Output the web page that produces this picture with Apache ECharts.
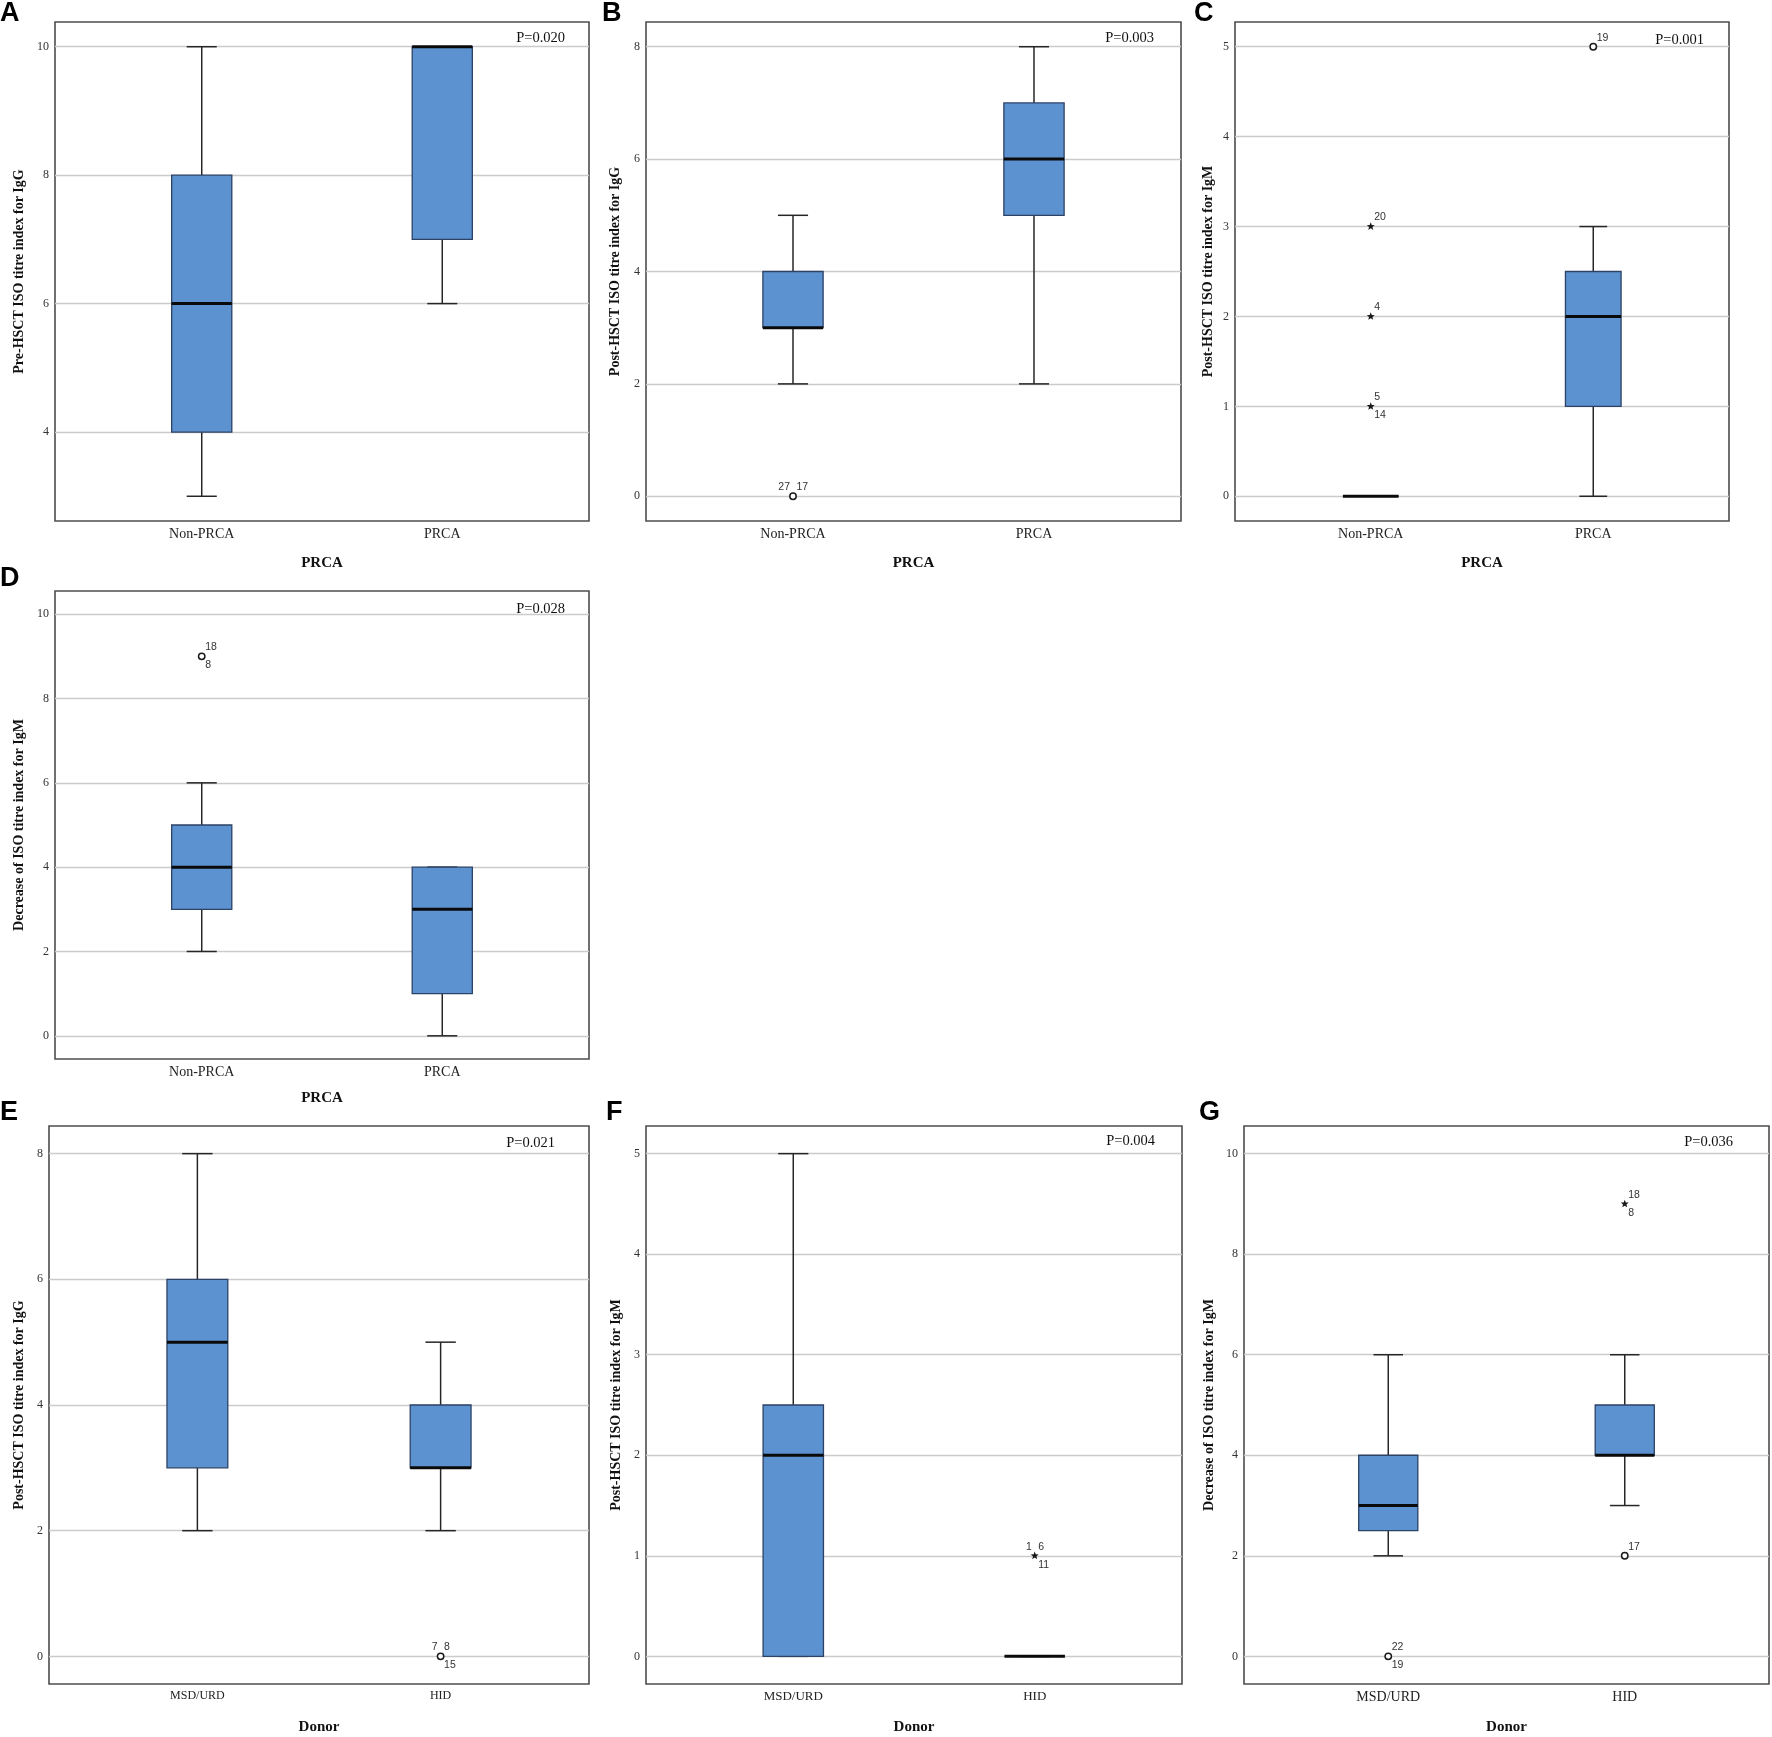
<!DOCTYPE html>
<html>
<head>
<meta charset="utf-8">
<title>ISO titre index by PRCA and donor type</title>
<script src="https://cdn.jsdelivr.net/npm/echarts@6/dist/echarts.min.js"></script>
<style>
  html, body { margin: 0; padding: 0; background: #fff; }
  #chart { width: 1772px; height: 1737px; }
</style>
</head>
<body>
<div id="chart"></div>
<script>
// groups on the x axis
const prcaGroups = ['Non-PRCA', 'PRCA'];
const donorGroups = ['MSD/URD', 'HID'];

// five-number summaries per group: [min, Q1, median, Q3, max]
const boxA = [[3, 4, 6, 8, 10], [6, 7, 10, 10, 10]];
const boxB = [[2, 3, 3, 4, 5], [2, 5, 6, 7, 8]];
const boxC = [[0, 0, 0, 0, 0], [0, 1, 2, 2.5, 3]];
const boxD = [[2, 3, 4, 5, 6], [0, 1, 3, 4, 4]];
const boxE = [[2, 3, 5, 6, 8], [2, 3, 3, 4, 5]];
const boxF = [[0, 0, 2, 2.5, 5], [0, 0, 0, 0, 0]];
const boxG = [[2, 2.5, 3, 4, 6], [3, 4, 4, 5, 6]];

// outliers: [group, value, kind (0 = circle, 1 = extreme star), upper-left id, upper-right id, lower-right id]
const outA = [];
const outB = [[0, 0, 0, '27', '17', '']];
const outC = [[0, 3, 1, '', '20', ''], [0, 2, 1, '', '4', ''], [0, 1, 1, '', '5', '14'], [1, 5, 0, '', '19', '']];
const outD = [[0, 9, 0, '', '18', '8']];
const outE = [[1, 0, 0, '7', '8', '15']];
const outF = [[1, 1, 1, '1', '6', '11']];
const outG = [[0, 0, 0, '', '22', '19'], [1, 9, 1, '', '18', '8'], [1, 2, 0, '', '17', '']];

const yTitles = [
  'Pre-HSCT ISO titre index for IgG',
  'Post-HSCT ISO titre index for IgG',
  'Post-HSCT ISO titre index for IgM',
  'Decrease of ISO titre index for IgM',
  'Post-HSCT ISO titre index for IgG',
  'Post-HSCT ISO titre index for IgM',
  'Decrease of ISO titre index for IgM'
];
const pValues = ['P=0.020', 'P=0.003', 'P=0.001', 'P=0.028', 'P=0.021', 'P=0.004', 'P=0.036'];
const yTickStep = [2, 2, 1, 2, 2, 1, 2];

const SERIF = '"Liberation Serif", "Times New Roman", serif';
const SANS = '"Liberation Sans", Arial, sans-serif';
const BOX_WIDTH = 0.25;   // in group units

// layout of the seven panels (pixel rects of each plot frame)
const panels = [
  { letter: 'A', box: boxA, out: outA, cats: prcaGroups, xTitle: 'PRCA', yMin: 2.615, yMax: 10.385,
    grid: { left: 55, top: 22, width: 534, height: 499 }, yGap: 29, xGap: 35, catSize: 14, letterPos: [0, 14], pPos: [565, 38] },
  { letter: 'B', box: boxB, out: outB, cats: prcaGroups, xTitle: 'PRCA', yMin: -0.44, yMax: 8.44,
    grid: { left: 646, top: 22, width: 535, height: 499 }, yGap: 24, xGap: 35, catSize: 14, letterPos: [602, 14], pPos: [1154, 38] },
  { letter: 'C', box: boxC, out: outC, cats: prcaGroups, xTitle: 'PRCA', yMin: -0.275, yMax: 5.275,
    grid: { left: 1235, top: 22, width: 494, height: 499 }, yGap: 20, xGap: 35, catSize: 14, letterPos: [1194, 14], pPos: [1704, 40] },
  { letter: 'D', box: boxD, out: outD, cats: prcaGroups, xTitle: 'PRCA', yMin: -0.55, yMax: 10.55,
    grid: { left: 55, top: 591, width: 534, height: 468 }, yGap: 29, xGap: 32, catSize: 14, letterPos: [0, 579], pPos: [565, 609] },
  { letter: 'E', box: boxE, out: outE, cats: donorGroups, xTitle: 'Donor', yMin: -0.44, yMax: 8.44,
    grid: { left: 49, top: 1126, width: 540, height: 558 }, yGap: 23, xGap: 36, catSize: 12, letterPos: [0, 1113], pPos: [555, 1143] },
  { letter: 'F', box: boxF, out: outF, cats: donorGroups, xTitle: 'Donor', yMin: -0.275, yMax: 5.275,
    grid: { left: 646, top: 1126, width: 536, height: 558 }, yGap: 23, xGap: 36, catSize: 13, letterPos: [606, 1113], pPos: [1155, 1141] },
  { letter: 'G', box: boxG, out: outG, cats: donorGroups, xTitle: 'Donor', yMin: -0.55, yMax: 10.55,
    grid: { left: 1244, top: 1126, width: 525, height: 558 }, yGap: 28, xGap: 36, catSize: 14, letterPos: [1199, 1113], pPos: [1733, 1142] }
];

function renderBox(params, api) {
  const x = api.value(0);
  const lo = api.coord([x, api.value(1)]);
  const q1 = api.coord([x, api.value(2)]);
  const med = api.coord([x, api.value(3)]);
  const q3 = api.coord([x, api.value(4)]);
  const hi = api.coord([x, api.value(5)]);
  const half = api.size([BOX_WIDTH, 0])[0] / 2;
  const cx = med[0];
  const whisker = { stroke: '#262626', lineWidth: 1.5 };
  return {
    type: 'group',
    children: [
      { type: 'line', shape: { x1: cx, y1: hi[1], x2: cx, y2: q3[1] }, style: whisker },
      { type: 'line', shape: { x1: cx, y1: q1[1], x2: cx, y2: lo[1] }, style: whisker },
      { type: 'line', shape: { x1: cx - half / 2, y1: hi[1], x2: cx + half / 2, y2: hi[1] }, style: whisker },
      { type: 'line', shape: { x1: cx - half / 2, y1: lo[1], x2: cx + half / 2, y2: lo[1] }, style: whisker },
      { type: 'rect', shape: { x: cx - half, y: q3[1], width: half * 2, height: q1[1] - q3[1] },
        style: { fill: '#5b92cf', stroke: '#2c4266', lineWidth: 1.3 } },
      { type: 'line', shape: { x1: cx - half, y1: med[1], x2: cx + half, y2: med[1] },
        style: { stroke: '#0a0a0a', lineWidth: 3 } }
    ]
  };
}

function outlierRenderer(list) {
  return function (params, api) {
    const o = list[params.dataIndex];
    const p = api.coord([api.value(0), api.value(1)]);
    const children = [];
    if (o[2] === 0) {
      children.push({ type: 'circle', shape: { cx: p[0], cy: p[1], r: 3.2 },
        style: { fill: '#fff', stroke: '#1a1a1a', lineWidth: 1.5 } });
    } else {
      const pts = [];
      for (let k = 0; k < 10; k++) {
        const r = k % 2 === 0 ? 4.2 : 1.8;
        const a = -Math.PI / 2 + k * Math.PI / 5;
        pts.push([p[0] + r * Math.cos(a), p[1] + r * Math.sin(a)]);
      }
      children.push({ type: 'polygon', shape: { points: pts }, style: { fill: '#1a1a1a' } });
    }
    const font = '10.5px ' + SANS;
    if (o[3]) children.push({ type: 'text', x: p[0] - 3, y: p[1] - 9,
      style: { text: o[3], font: font, fill: '#333', align: 'right', verticalAlign: 'middle' } });
    if (o[4]) children.push({ type: 'text', x: p[0] + 3.5, y: p[1] - 9,
      style: { text: o[4], font: font, fill: '#333', align: 'left', verticalAlign: 'middle' } });
    if (o[5]) children.push({ type: 'text', x: p[0] + 3.5, y: p[1] + 9,
      style: { text: o[5], font: font, fill: '#333', align: 'left', verticalAlign: 'middle' } });
    return { type: 'group', children: children };
  };
}

const grids = [], xAxes = [], yAxes = [], series = [], graphics = [];

panels.forEach((p, i) => {
  grids.push(Object.assign({ show: true, borderColor: '#4d4d4d', borderWidth: 1.6, backgroundColor: 'transparent' }, p.grid));

  xAxes.push({
    gridIndex: i, type: 'value', min: -0.61, max: 1.61, minInterval: 1, maxInterval: 1,
    name: p.xTitle, nameLocation: 'middle', nameGap: p.xGap,
    nameTextStyle: { fontFamily: SERIF, fontWeight: 'bold', fontSize: 15, color: '#111' },
    axisLine: { show: false }, axisTick: { show: false }, splitLine: { show: false },
    axisLabel: {
      margin: 6, fontFamily: SERIF, fontSize: p.catSize, color: '#222',
      formatter: v => (v === 0 || v === 1) ? p.cats[v] : ''
    }
  });

  yAxes.push({
    gridIndex: i, type: 'value', min: p.yMin, max: p.yMax,
    minInterval: yTickStep[i], maxInterval: yTickStep[i],
    name: yTitles[i], nameLocation: 'middle', nameGap: p.yGap,
    nameTextStyle: { fontFamily: SERIF, fontWeight: 'bold', fontSize: 14, color: '#111' },
    axisLine: { show: false }, axisTick: { show: false },
    axisLabel: {
      margin: 6, fontFamily: SERIF, fontSize: 12, color: '#333',
      formatter: v => Number.isInteger(v) ? String(v) : ''
    },
    splitLine: { show: true, showMinLine: false, showMaxLine: false, lineStyle: { color: '#cbcbcb', width: 1.3 } }
  });

  series.push({
    type: 'custom', xAxisIndex: i, yAxisIndex: i,
    data: p.box.map((b, g) => [g].concat(b)),
    encode: { x: 0, y: [1, 2, 3, 4, 5] },
    renderItem: renderBox, silent: true
  });

  if (p.out.length) {
    series.push({
      type: 'custom', xAxisIndex: i, yAxisIndex: i,
      data: p.out.map(o => [o[0], o[1]]),
      encode: { x: 0, y: 1 },
      renderItem: outlierRenderer(p.out), silent: true, z: 5
    });
  }

  graphics.push({
    type: 'text', x: p.letterPos[0], y: p.letterPos[1],
    style: { text: p.letter, font: 'bold 27px ' + SANS, fill: '#000', align: 'left', verticalAlign: 'middle' }
  });
  graphics.push({
    type: 'text', x: p.pPos[0], y: p.pPos[1],
    style: { text: pValues[i], font: '14.5px ' + SERIF, fill: '#111', align: 'right', verticalAlign: 'middle' }
  });
});

const chart = echarts.init(document.getElementById('chart'), null, { renderer: 'canvas' });
chart.setOption({
  backgroundColor: '#ffffff',
  animation: false,
  grid: grids,
  xAxis: xAxes,
  yAxis: yAxes,
  series: series,
  graphic: graphics
});
</script>
</body>
</html>
